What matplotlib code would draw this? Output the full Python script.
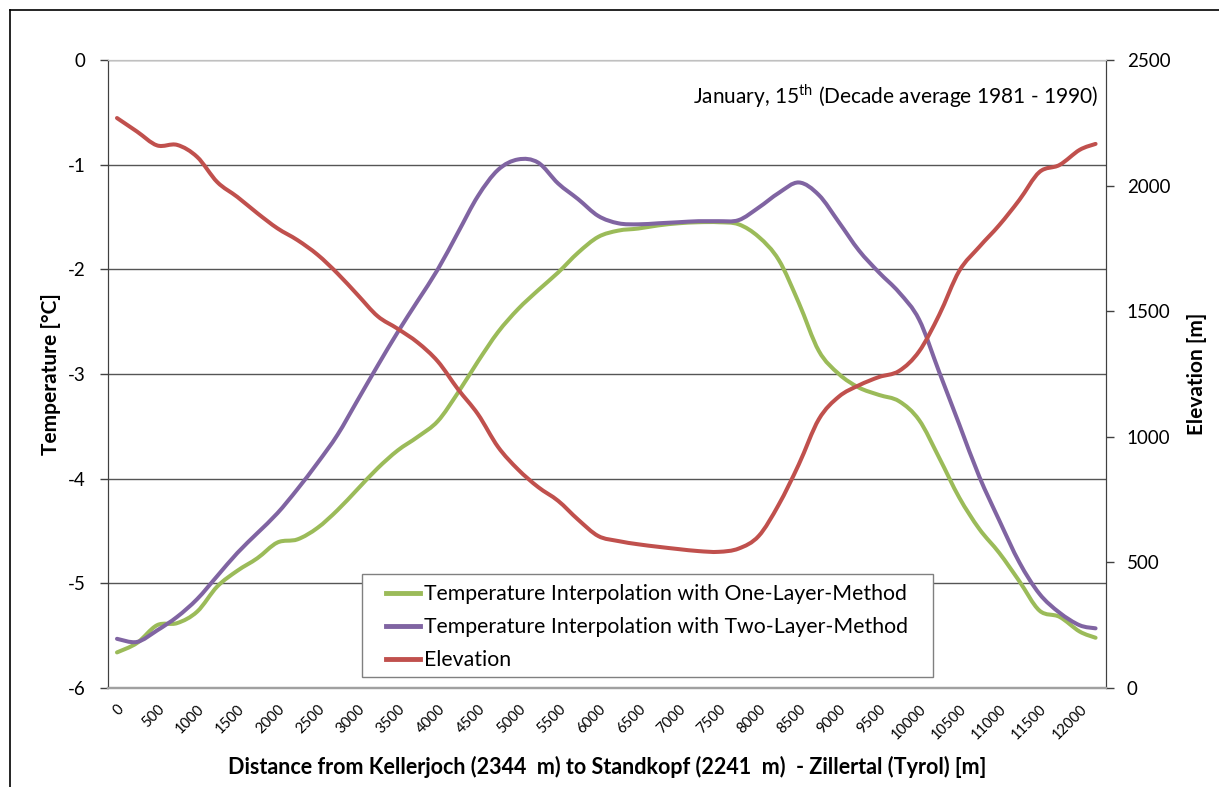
import matplotlib
matplotlib.use("Agg")
import matplotlib.pyplot as plt
from matplotlib.lines import Line2D
from matplotlib.path import Path
from matplotlib.patches import PathPatch, Rectangle

plt.rcParams["font.family"] = ["Lato", "DejaVu Sans"]
plt.rcParams["mathtext.fontset"] = "custom"
plt.rcParams["mathtext.rm"] = "Lato"
plt.rcParams["axes.unicode_minus"] = False

# distance along the profile [m]
distance = [0, 250, 500, 750, 1000, 1250, 1500, 1750, 2000, 2250,
            2500, 2750, 3000, 3250, 3500, 3750, 4000, 4250, 4500, 4750,
            5000, 5250, 5500, 5750, 6000, 6250, 6500, 6750, 7000, 7250,
            7500, 7750, 8000, 8250, 8500, 8750, 9000, 9250, 9500, 9750,
            10000, 10250, 10500, 10750, 11000, 11250, 11500, 11750, 12000, 12200]

temp_one_layer = [-5.66, -5.57, -5.40, -5.38, -5.27, -5.03, -4.88, -4.76, -4.61, -4.58,
                  -4.47, -4.30, -4.10, -3.90, -3.73, -3.60, -3.45, -3.18, -2.88, -2.60,
                  -2.38, -2.20, -2.03, -1.84, -1.69, -1.63, -1.61, -1.58, -1.56, -1.55,
                  -1.55, -1.57, -1.69, -1.91, -2.32, -2.78, -3.00, -3.13, -3.20, -3.26,
                  -3.44, -3.80, -4.18, -4.48, -4.71, -4.98, -5.26, -5.32, -5.46, -5.52]

temp_two_layer = [-5.53, -5.56, -5.45, -5.32, -5.15, -4.93, -4.71, -4.52, -4.33, -4.10,
                  -3.85, -3.58, -3.25, -2.92, -2.60, -2.30, -2.00, -1.65, -1.30, -1.05,
                  -0.95, -0.98, -1.18, -1.33, -1.49, -1.56, -1.57, -1.56, -1.55, -1.54,
                  -1.54, -1.53, -1.41, -1.27, -1.17, -1.29, -1.55, -1.82, -2.03, -2.22,
                  -2.48, -2.98, -3.48, -3.98, -4.40, -4.80, -5.10, -5.28, -5.40, -5.43]

elevation = [2269, 2215, 2160, 2162, 2114, 2014, 1955, 1890, 1830, 1783,
             1725, 1650, 1565, 1480, 1430, 1375, 1300, 1190, 1090, 960,
             870, 800, 745, 670, 605, 585, 572, 562, 553, 545,
             542, 555, 605, 730, 890, 1070, 1160, 1205, 1238, 1262,
             1340, 1485, 1660, 1756, 1843, 1943, 2054, 2082, 2142, 2166]

x_ticks = list(range(0, 12001, 500))
green = "#9BBB59"
purple = "#8064A2"
red = "#C0504D"


def smooth_line(ax, x, y, color):
    # smoothed line like Excel: cubic Bezier through every data point
    n = len(x)
    verts = [(x[0], y[0])]
    codes = [Path.MOVETO]
    for i in range(n - 1):
        x0, y0 = x[max(i - 1, 0)], y[max(i - 1, 0)]
        x3, y3 = x[min(i + 2, n - 1)], y[min(i + 2, n - 1)]
        c1 = (x[i] + (x[i + 1] - x0) / 6, y[i] + (y[i + 1] - y0) / 6)
        c2 = (x[i + 1] - (x3 - x[i]) / 6, y[i + 1] - (y3 - y[i]) / 6)
        verts += [c1, c2, (x[i + 1], y[i + 1])]
        codes += [Path.CURVE4] * 3
    ax.add_patch(PathPatch(Path(verts, codes), fill=False, edgecolor=color,
                           lw=2.9, capstyle="round", joinstyle="round"))


fig = plt.figure(figsize=(12.19, 7.87), dpi=100)
ax = fig.add_axes([108 / 1219, 1 - 688 / 787, (1106 - 108) / 1219, (688 - 60) / 787])
ax2 = ax.twinx()

smooth_line(ax, distance, temp_one_layer, green)
smooth_line(ax, distance, temp_two_layer, purple)
smooth_line(ax2, distance, elevation, red)

ax.set_xlim(-112, 12330)
ax.set_ylim(-6, 0)
ax2.set_ylim(0, 2500)
ax.set_yticks(range(-6, 1))
ax2.set_yticks(range(0, 2501, 500))
ax.set_xticks(x_ticks)
ax.set_xticklabels([str(v) for v in x_ticks], rotation=45, ha="right",
                   rotation_mode="anchor", fontsize=10.5)
ax.tick_params(axis="x", length=0, pad=10)
ax.tick_params(axis="y", length=6, width=1, color="#404040", labelsize=13.5, pad=10)
ax2.tick_params(axis="y", length=6, width=1, color="#404040", labelsize=13.5, pad=9)

ax.grid(axis="y", color="#555555", lw=1)
ax.set_axisbelow(True)

for a in (ax, ax2):
    a.spines["top"].set_color("#c0c0c0")
    a.spines["bottom"].set_color("#a0a0a0")
    a.spines["bottom"].set_linewidth(1.6)
    a.spines["left"].set_color("#404040")
    a.spines["right"].set_color("#404040")

ax.set_ylabel("Temperature [°C]", fontsize=15, fontweight="bold", labelpad=5)
ax2.set_ylabel("Elevation [m]", fontsize=15, fontweight="bold", labelpad=12)
ax.set_xlabel("Distance from Kellerjoch (2344  m) to Standkopf (2241  m)  - Zillertal (Tyrol) [m]",
              fontsize=15.5, fontweight="bold", labelpad=10)

ax2.text(0.992, 0.942, r"January, 15$^{\mathrm{th}}$ (Decade average 1981 - 1990)",
         transform=ax2.transAxes, ha="right", va="center", fontsize=15)

# legend frame drawn separately to get Excel-like padding
ax2.add_patch(Rectangle((362 / 1219, 1 - 677 / 787), (933 - 362) / 1219, (677 - 574) / 787,
                        transform=fig.transFigure, facecolor="white", edgecolor="#808080",
                        lw=1, zorder=4, clip_on=False))
handles = [Line2D([], [], color=green, lw=3.5),
           Line2D([], [], color=purple, lw=3.5),
           Line2D([], [], color=red, lw=3.5)]
labels = ["Temperature Interpolation with One-Layer-Method",
          "Temperature Interpolation with Two-Layer-Method",
          "Elevation"]
leg = ax2.legend(handles, labels, loc="upper left",
                 bbox_to_anchor=(386 / 1219, 1 - 584 / 787), bbox_transform=fig.transFigure,
                 borderaxespad=0, borderpad=0, fontsize=15.3, frameon=False,
                 handlelength=1.6, handletextpad=0.2, labelspacing=0.62)

# outer chart border
fig.add_artist(Line2D([10 / 1219, 10 / 1219], [0, 1 - 10 / 787],
                      transform=fig.transFigure, color="black", lw=1.2))
fig.add_artist(Line2D([10 / 1219, 1], [1 - 10 / 787, 1 - 10 / 787],
                      transform=fig.transFigure, color="black", lw=1.2))

fig.savefig("out.png", dpi=100)
